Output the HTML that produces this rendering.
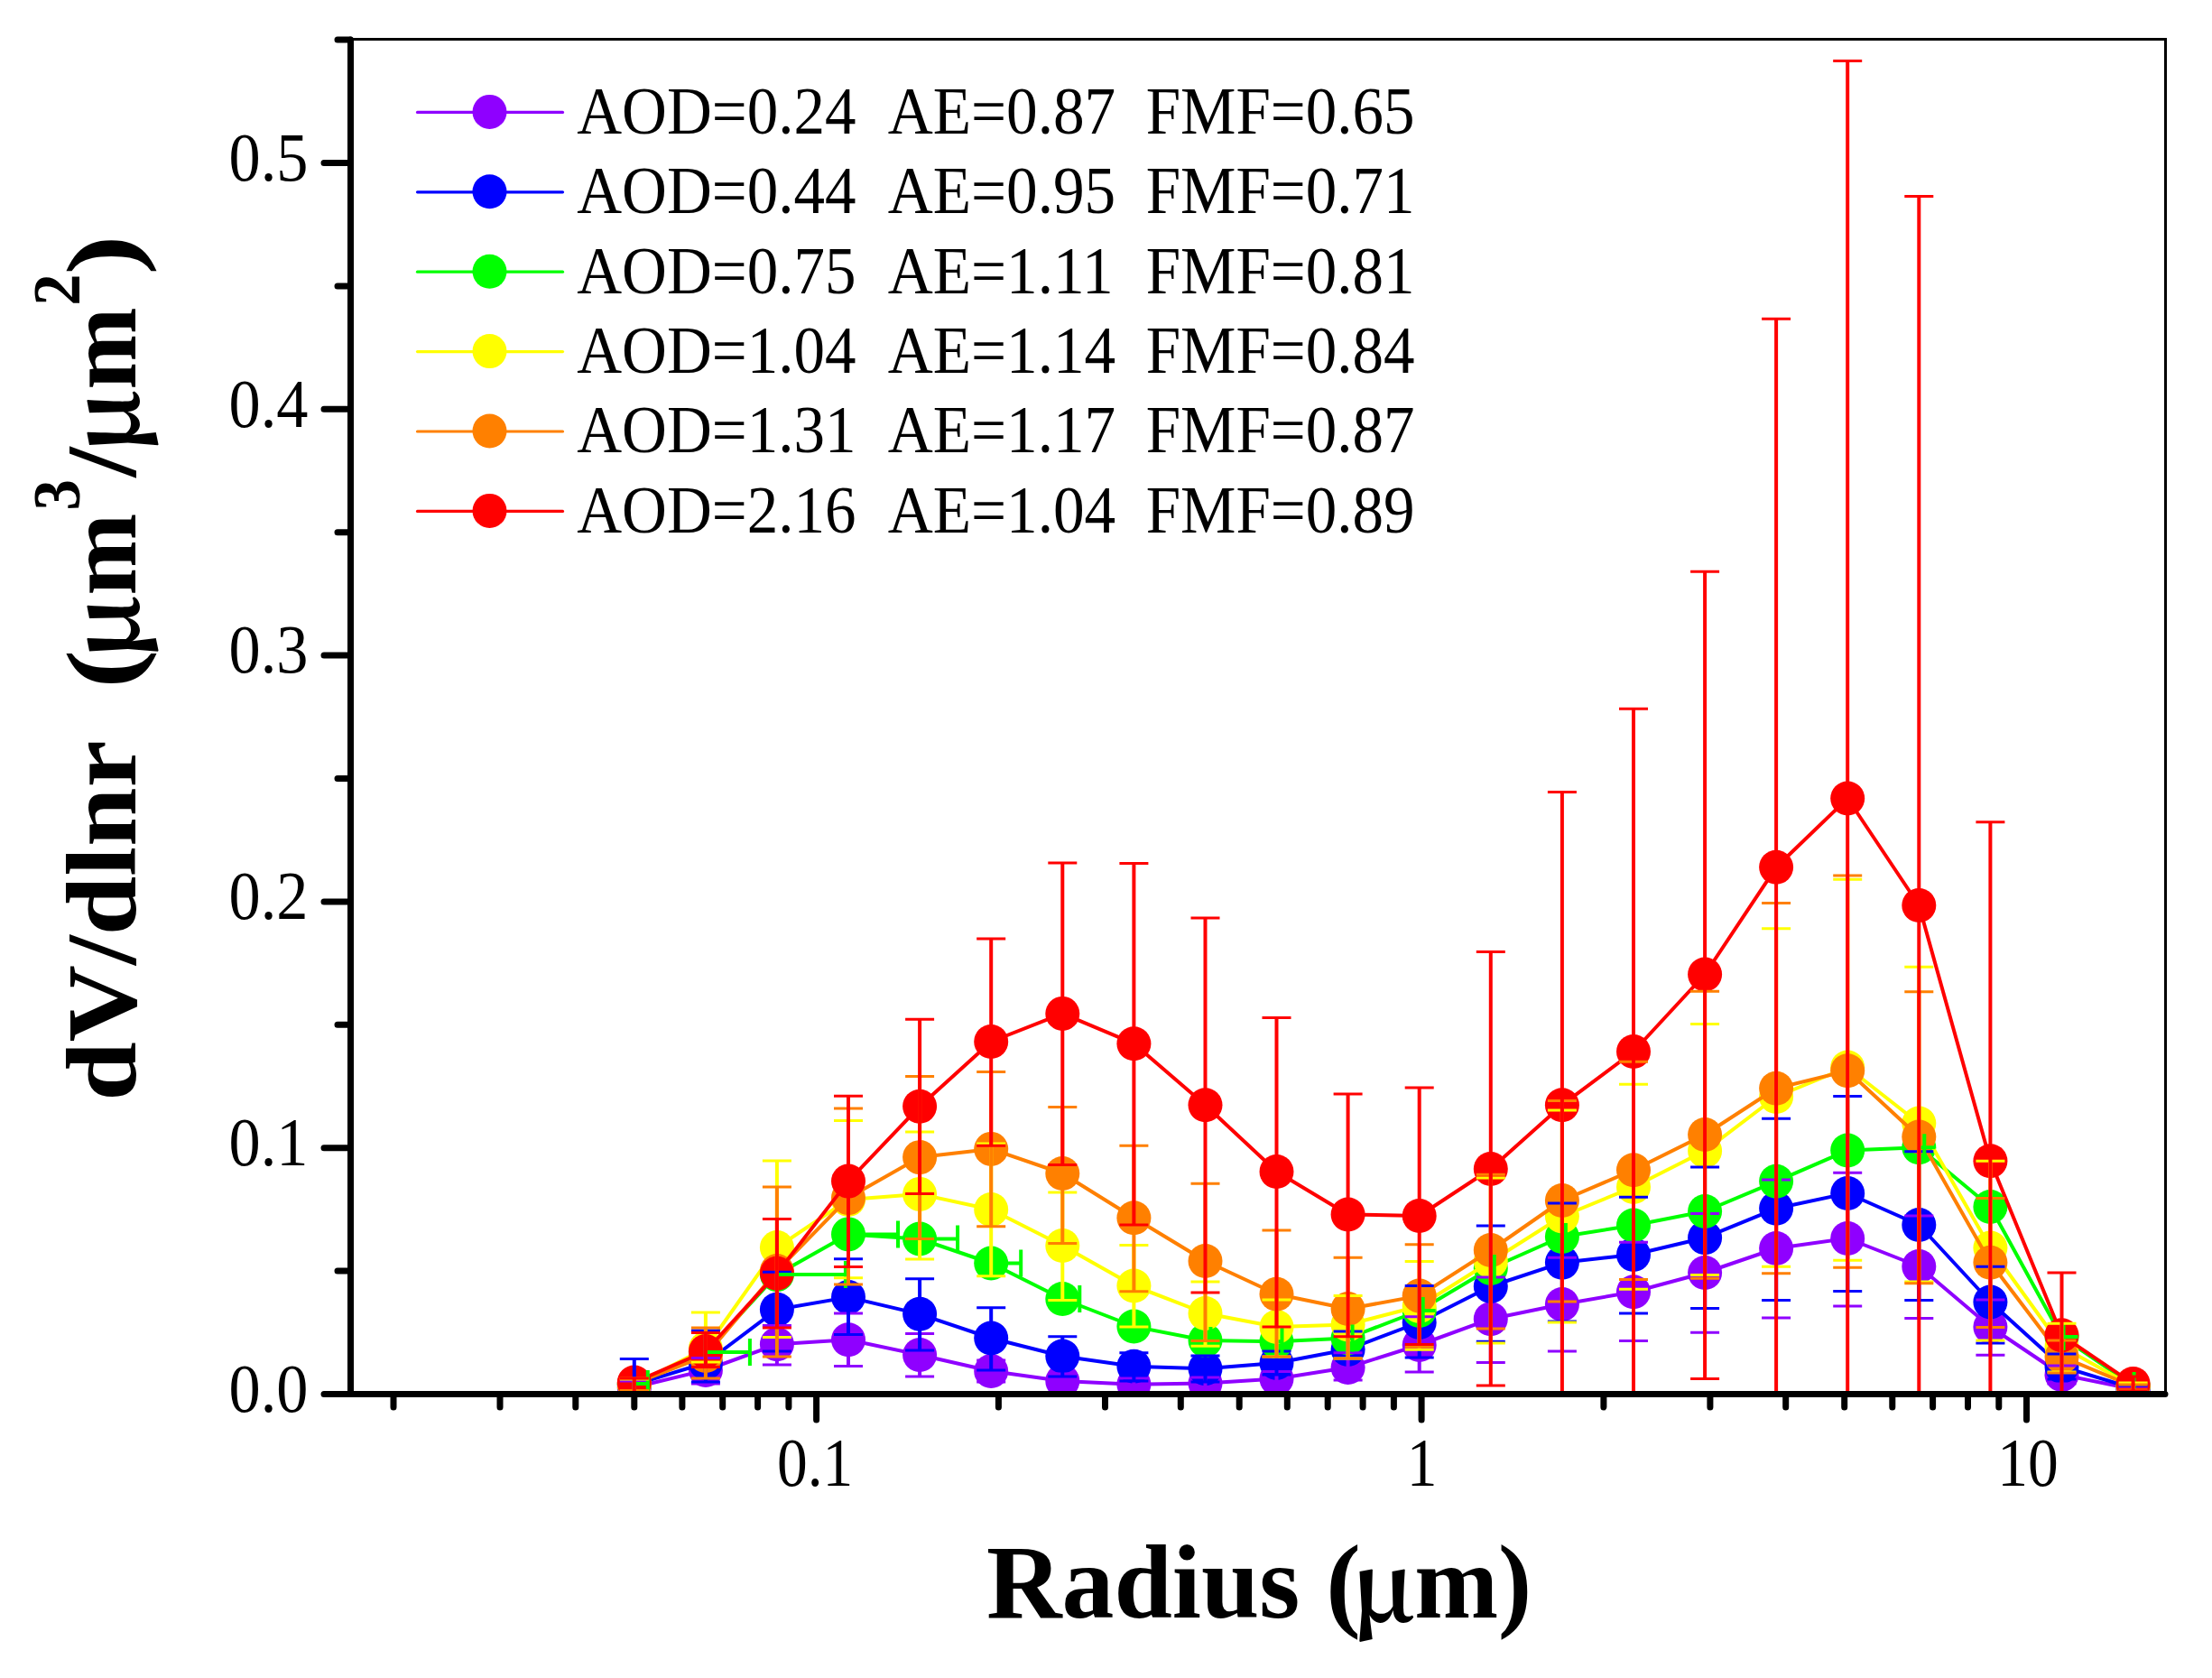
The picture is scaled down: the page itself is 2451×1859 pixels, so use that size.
<!DOCTYPE html><html><head><meta charset="utf-8"><style>html,body{margin:0;padding:0;background:#fff;overflow:hidden;}svg{display:block;}text{font-family:"Liberation Serif","Times New Roman",serif;}</style></head><body>
<svg width="2451" height="1859" viewBox="0 0 2451 1859">
<rect width="2451" height="1859" fill="#fff"/>
<text transform="translate(253.59,1563.80) scale(0.9375,1.0245)" font-size="75">0.0</text>
<text transform="translate(253.59,1291.00) scale(0.9375,1.0245)" font-size="75">0.1</text>
<text transform="translate(253.59,1018.20) scale(0.9375,1.0245)" font-size="75">0.2</text>
<text transform="translate(253.59,745.40) scale(0.9375,1.0245)" font-size="75">0.3</text>
<text transform="translate(253.59,472.60) scale(0.9375,1.0245)" font-size="75">0.4</text>
<text transform="translate(253.59,199.80) scale(0.9375,1.0245)" font-size="75">0.5</text>
<text transform="translate(903.09,1645.50) scale(0.9000,1.0102)" font-size="75" text-anchor="middle">0.1</text>
<text transform="translate(1575.54,1645.50) scale(0.9000,1.0102)" font-size="75" text-anchor="middle">1</text>
<text transform="translate(2246.99,1645.50) scale(0.9000,1.0102)" font-size="75" text-anchor="middle">10</text>
<text transform="translate(1092.94,1791.90) scale(0.9808,0.9872)" font-size="118" font-weight="bold">Radius (</text>
<text transform="translate(1567.17,1791.90) scale(0.9450,0.9872)" font-size="118" font-weight="bold">m)</text>
<text transform="translate(1497.18,1795.68) scale(0.9123,0.8889)" font-size="118" font-weight="bold" style="font-family:&quot;Noto Serif CJK SC&quot;,serif">μ</text>
<g transform="translate(149.8,1214.5) rotate(-90)">
<text transform="translate(-5.26,0.00) scale(1.0524,0.9846)" font-size="112" font-weight="bold">dV/dlnr</text>
<text transform="translate(451.86,0.00) scale(1.1483,0.9846)" font-size="112" font-weight="bold">(</text>
<text transform="translate(554.67,0.00) scale(0.9761,0.9846)" font-size="112" font-weight="bold">m</text>
<text transform="translate(686.06,0.00) scale(1.0606,0.9846)" font-size="112" font-weight="bold">/</text>
<text transform="translate(782.66,0.00) scale(0.9807,0.9846)" font-size="112" font-weight="bold">m</text>
<text transform="translate(910.09,0.00) scale(1.1786,0.9846)" font-size="112" font-weight="bold">)</text>
<text transform="translate(483.71,3.27) scale(0.9694,0.9221)" font-size="112" font-weight="bold" style="font-family:&quot;Noto Serif CJK SC&quot;,serif">μ</text>
<text transform="translate(712.14,3.27) scale(0.9565,0.9221)" font-size="112" font-weight="bold" style="font-family:&quot;Noto Serif CJK SC&quot;,serif">μ</text>
<text transform="translate(649.04,-62.30) scale(0.9548,1.0383)" font-size="72" font-weight="bold">3</text>
<text transform="translate(875.65,-62.30) scale(0.9833,1.0383)" font-size="72" font-weight="bold">2</text>
</g>
<defs><clipPath id="pc"><rect x="390" y="45" width="2008" height="1497"/></clipPath></defs>
<g clip-path="url(#pc)">
<polyline points="702.8,1537.0 781.9,1518.0 860.9,1489.3 940.0,1484.3 1019.1,1501.0 1098.2,1519.0 1177.3,1530.0 1256.4,1533.8 1335.5,1532.5 1414.5,1527.5 1493.6,1515.0 1572.7,1490.0 1651.8,1461.2 1730.9,1445.0 1810.0,1431.2 1889.1,1410.0 1968.1,1383.0 2047.2,1372.0 2126.3,1403.0 2205.4,1470.0 2284.5,1523.0 2363.6,1539.0" fill="none" stroke="#8F00FF" stroke-width="4" stroke-linejoin="round"/>
<circle cx="702.8" cy="1537.0" r="19" fill="#8F00FF"/><circle cx="781.9" cy="1518.0" r="19" fill="#8F00FF"/><circle cx="860.9" cy="1489.3" r="19" fill="#8F00FF"/><circle cx="940.0" cy="1484.3" r="19" fill="#8F00FF"/><circle cx="1019.1" cy="1501.0" r="19" fill="#8F00FF"/><circle cx="1098.2" cy="1519.0" r="19" fill="#8F00FF"/><circle cx="1177.3" cy="1530.0" r="19" fill="#8F00FF"/><circle cx="1256.4" cy="1533.8" r="19" fill="#8F00FF"/><circle cx="1335.5" cy="1532.5" r="19" fill="#8F00FF"/><circle cx="1414.5" cy="1527.5" r="19" fill="#8F00FF"/><circle cx="1493.6" cy="1515.0" r="19" fill="#8F00FF"/><circle cx="1572.7" cy="1490.0" r="19" fill="#8F00FF"/><circle cx="1651.8" cy="1461.2" r="19" fill="#8F00FF"/><circle cx="1730.9" cy="1445.0" r="19" fill="#8F00FF"/><circle cx="1810.0" cy="1431.2" r="19" fill="#8F00FF"/><circle cx="1889.1" cy="1410.0" r="19" fill="#8F00FF"/><circle cx="1968.1" cy="1383.0" r="19" fill="#8F00FF"/><circle cx="2047.2" cy="1372.0" r="19" fill="#8F00FF"/><circle cx="2126.3" cy="1403.0" r="19" fill="#8F00FF"/><circle cx="2205.4" cy="1470.0" r="19" fill="#8F00FF"/><circle cx="2284.5" cy="1523.0" r="19" fill="#8F00FF"/><circle cx="2363.6" cy="1539.0" r="19" fill="#8F00FF"/>
<polyline points="702.8,1534.0 781.9,1510.0 860.9,1450.7 940.0,1437.1 1019.1,1455.8 1098.2,1482.5 1177.3,1502.5 1256.4,1513.8 1335.5,1516.2 1414.5,1510.0 1493.6,1495.0 1572.7,1465.0 1651.8,1425.0 1730.9,1398.8 1810.0,1390.0 1889.1,1371.2 1968.1,1338.8 2047.2,1322.0 2126.3,1357.0 2205.4,1442.5 2284.5,1514.0 2363.6,1538.0" fill="none" stroke="#0000FF" stroke-width="4" stroke-linejoin="round"/>
<circle cx="702.8" cy="1534.0" r="19" fill="#0000FF"/><circle cx="781.9" cy="1510.0" r="19" fill="#0000FF"/><circle cx="860.9" cy="1450.7" r="19" fill="#0000FF"/><circle cx="940.0" cy="1437.1" r="19" fill="#0000FF"/><circle cx="1019.1" cy="1455.8" r="19" fill="#0000FF"/><circle cx="1098.2" cy="1482.5" r="19" fill="#0000FF"/><circle cx="1177.3" cy="1502.5" r="19" fill="#0000FF"/><circle cx="1256.4" cy="1513.8" r="19" fill="#0000FF"/><circle cx="1335.5" cy="1516.2" r="19" fill="#0000FF"/><circle cx="1414.5" cy="1510.0" r="19" fill="#0000FF"/><circle cx="1493.6" cy="1495.0" r="19" fill="#0000FF"/><circle cx="1572.7" cy="1465.0" r="19" fill="#0000FF"/><circle cx="1651.8" cy="1425.0" r="19" fill="#0000FF"/><circle cx="1730.9" cy="1398.8" r="19" fill="#0000FF"/><circle cx="1810.0" cy="1390.0" r="19" fill="#0000FF"/><circle cx="1889.1" cy="1371.2" r="19" fill="#0000FF"/><circle cx="1968.1" cy="1338.8" r="19" fill="#0000FF"/><circle cx="2047.2" cy="1322.0" r="19" fill="#0000FF"/><circle cx="2126.3" cy="1357.0" r="19" fill="#0000FF"/><circle cx="2205.4" cy="1442.5" r="19" fill="#0000FF"/><circle cx="2284.5" cy="1514.0" r="19" fill="#0000FF"/><circle cx="2363.6" cy="1538.0" r="19" fill="#0000FF"/>
<polyline points="702.8,1533.0 781.9,1497.9 860.9,1412.1 940.0,1367.4 1019.1,1372.5 1098.2,1399.5 1177.3,1439.0 1256.4,1469.5 1335.5,1485.0 1414.5,1486.2 1493.6,1482.5 1572.7,1452.0 1651.8,1405.0 1730.9,1370.0 1810.0,1357.5 1889.1,1342.0 1968.1,1308.8 2047.2,1274.5 2126.3,1271.2 2205.4,1337.0 2284.5,1481.0 2363.6,1535.0" fill="none" stroke="#00FF00" stroke-width="4" stroke-linejoin="round"/>
<circle cx="702.8" cy="1533.0" r="19" fill="#00FF00"/><circle cx="781.9" cy="1497.9" r="19" fill="#00FF00"/><circle cx="860.9" cy="1412.1" r="19" fill="#00FF00"/><circle cx="940.0" cy="1367.4" r="19" fill="#00FF00"/><circle cx="1019.1" cy="1372.5" r="19" fill="#00FF00"/><circle cx="1098.2" cy="1399.5" r="19" fill="#00FF00"/><circle cx="1177.3" cy="1439.0" r="19" fill="#00FF00"/><circle cx="1256.4" cy="1469.5" r="19" fill="#00FF00"/><circle cx="1335.5" cy="1485.0" r="19" fill="#00FF00"/><circle cx="1414.5" cy="1486.2" r="19" fill="#00FF00"/><circle cx="1493.6" cy="1482.5" r="19" fill="#00FF00"/><circle cx="1572.7" cy="1452.0" r="19" fill="#00FF00"/><circle cx="1651.8" cy="1405.0" r="19" fill="#00FF00"/><circle cx="1730.9" cy="1370.0" r="19" fill="#00FF00"/><circle cx="1810.0" cy="1357.5" r="19" fill="#00FF00"/><circle cx="1889.1" cy="1342.0" r="19" fill="#00FF00"/><circle cx="1968.1" cy="1308.8" r="19" fill="#00FF00"/><circle cx="2047.2" cy="1274.5" r="19" fill="#00FF00"/><circle cx="2126.3" cy="1271.2" r="19" fill="#00FF00"/><circle cx="2205.4" cy="1337.0" r="19" fill="#00FF00"/><circle cx="2284.5" cy="1481.0" r="19" fill="#00FF00"/><circle cx="2363.6" cy="1535.0" r="19" fill="#00FF00"/>
<polyline points="702.8,1534.0 781.9,1494.0 860.9,1382.1 940.0,1329.0 1019.1,1322.9 1098.2,1340.0 1177.3,1380.0 1256.4,1424.5 1335.5,1455.0 1414.5,1470.0 1493.6,1467.5 1572.7,1447.0 1651.8,1397.5 1730.9,1347.5 1810.0,1315.0 1889.1,1275.0 1968.1,1215.0 2047.2,1182.5 2126.3,1244.5 2205.4,1382.5 2284.5,1492.0 2363.6,1536.0" fill="none" stroke="#FFFF00" stroke-width="4" stroke-linejoin="round"/>
<circle cx="702.8" cy="1534.0" r="19" fill="#FFFF00"/><circle cx="781.9" cy="1494.0" r="19" fill="#FFFF00"/><circle cx="860.9" cy="1382.1" r="19" fill="#FFFF00"/><circle cx="940.0" cy="1329.0" r="19" fill="#FFFF00"/><circle cx="1019.1" cy="1322.9" r="19" fill="#FFFF00"/><circle cx="1098.2" cy="1340.0" r="19" fill="#FFFF00"/><circle cx="1177.3" cy="1380.0" r="19" fill="#FFFF00"/><circle cx="1256.4" cy="1424.5" r="19" fill="#FFFF00"/><circle cx="1335.5" cy="1455.0" r="19" fill="#FFFF00"/><circle cx="1414.5" cy="1470.0" r="19" fill="#FFFF00"/><circle cx="1493.6" cy="1467.5" r="19" fill="#FFFF00"/><circle cx="1572.7" cy="1447.0" r="19" fill="#FFFF00"/><circle cx="1651.8" cy="1397.5" r="19" fill="#FFFF00"/><circle cx="1730.9" cy="1347.5" r="19" fill="#FFFF00"/><circle cx="1810.0" cy="1315.0" r="19" fill="#FFFF00"/><circle cx="1889.1" cy="1275.0" r="19" fill="#FFFF00"/><circle cx="1968.1" cy="1215.0" r="19" fill="#FFFF00"/><circle cx="2047.2" cy="1182.5" r="19" fill="#FFFF00"/><circle cx="2126.3" cy="1244.5" r="19" fill="#FFFF00"/><circle cx="2205.4" cy="1382.5" r="19" fill="#FFFF00"/><circle cx="2284.5" cy="1492.0" r="19" fill="#FFFF00"/><circle cx="2363.6" cy="1536.0" r="19" fill="#FFFF00"/>
<polyline points="702.8,1533.0 781.9,1502.0 860.9,1408.0 940.0,1327.1 1019.1,1282.1 1098.2,1272.9 1177.3,1300.0 1256.4,1349.2 1335.5,1397.0 1414.5,1433.8 1493.6,1450.0 1572.7,1435.6 1651.8,1385.0 1730.9,1330.0 1810.0,1296.2 1889.1,1257.0 1968.1,1205.8 2047.2,1186.2 2126.3,1259.5 2205.4,1398.8 2284.5,1503.0 2363.6,1536.0" fill="none" stroke="#FF8000" stroke-width="4" stroke-linejoin="round"/>
<circle cx="702.8" cy="1533.0" r="19" fill="#FF8000"/><circle cx="781.9" cy="1502.0" r="19" fill="#FF8000"/><circle cx="860.9" cy="1408.0" r="19" fill="#FF8000"/><circle cx="940.0" cy="1327.1" r="19" fill="#FF8000"/><circle cx="1019.1" cy="1282.1" r="19" fill="#FF8000"/><circle cx="1098.2" cy="1272.9" r="19" fill="#FF8000"/><circle cx="1177.3" cy="1300.0" r="19" fill="#FF8000"/><circle cx="1256.4" cy="1349.2" r="19" fill="#FF8000"/><circle cx="1335.5" cy="1397.0" r="19" fill="#FF8000"/><circle cx="1414.5" cy="1433.8" r="19" fill="#FF8000"/><circle cx="1493.6" cy="1450.0" r="19" fill="#FF8000"/><circle cx="1572.7" cy="1435.6" r="19" fill="#FF8000"/><circle cx="1651.8" cy="1385.0" r="19" fill="#FF8000"/><circle cx="1730.9" cy="1330.0" r="19" fill="#FF8000"/><circle cx="1810.0" cy="1296.2" r="19" fill="#FF8000"/><circle cx="1889.1" cy="1257.0" r="19" fill="#FF8000"/><circle cx="1968.1" cy="1205.8" r="19" fill="#FF8000"/><circle cx="2047.2" cy="1186.2" r="19" fill="#FF8000"/><circle cx="2126.3" cy="1259.5" r="19" fill="#FF8000"/><circle cx="2205.4" cy="1398.8" r="19" fill="#FF8000"/><circle cx="2284.5" cy="1503.0" r="19" fill="#FF8000"/><circle cx="2363.6" cy="1536.0" r="19" fill="#FF8000"/>
<polyline points="702.8,1531.5 781.9,1497.0 860.9,1410.7 940.0,1308.6 1019.1,1225.7 1098.2,1154.0 1177.3,1122.9 1256.4,1156.2 1335.5,1224.2 1414.5,1298.0 1493.6,1345.5 1572.7,1347.0 1651.8,1295.0 1730.9,1224.2 1810.0,1165.0 1889.1,1079.5 1968.1,960.8 2047.2,884.5 2126.3,1003.0 2205.4,1286.2 2284.5,1479.3 2363.6,1533.0" fill="none" stroke="#FF0000" stroke-width="4" stroke-linejoin="round"/>
<circle cx="702.8" cy="1531.5" r="19" fill="#FF0000"/><circle cx="781.9" cy="1497.0" r="19" fill="#FF0000"/><circle cx="860.9" cy="1410.7" r="19" fill="#FF0000"/><circle cx="940.0" cy="1308.6" r="19" fill="#FF0000"/><circle cx="1019.1" cy="1225.7" r="19" fill="#FF0000"/><circle cx="1098.2" cy="1154.0" r="19" fill="#FF0000"/><circle cx="1177.3" cy="1122.9" r="19" fill="#FF0000"/><circle cx="1256.4" cy="1156.2" r="19" fill="#FF0000"/><circle cx="1335.5" cy="1224.2" r="19" fill="#FF0000"/><circle cx="1414.5" cy="1298.0" r="19" fill="#FF0000"/><circle cx="1493.6" cy="1345.5" r="19" fill="#FF0000"/><circle cx="1572.7" cy="1347.0" r="19" fill="#FF0000"/><circle cx="1651.8" cy="1295.0" r="19" fill="#FF0000"/><circle cx="1730.9" cy="1224.2" r="19" fill="#FF0000"/><circle cx="1810.0" cy="1165.0" r="19" fill="#FF0000"/><circle cx="1889.1" cy="1079.5" r="19" fill="#FF0000"/><circle cx="1968.1" cy="960.8" r="19" fill="#FF0000"/><circle cx="2047.2" cy="884.5" r="19" fill="#FF0000"/><circle cx="2126.3" cy="1003.0" r="19" fill="#FF0000"/><circle cx="2205.4" cy="1286.2" r="19" fill="#FF0000"/><circle cx="2284.5" cy="1479.3" r="19" fill="#FF0000"/><circle cx="2363.6" cy="1533.0" r="19" fill="#FF0000"/>
<path d="M702.8,1530.0V1544.0 M781.9,1504.4V1533.0 M860.9,1468.6V1512.1 M940.0,1455.0V1513.6 M1019.1,1477.5V1525.0 M1098.2,1507.0V1531.0 M1177.3,1522.0V1538.0 M1256.4,1527.0V1541.0 M1335.5,1526.0V1539.0 M1414.5,1519.5V1535.0 M1493.6,1498.8V1529.0 M1572.7,1458.8V1520.0 M1651.8,1415.0V1509.5 M1730.9,1393.2V1497.0 M1810.0,1376.2V1485.5 M1889.1,1344.5V1476.2 M1968.1,1307.0V1460.0 M2047.2,1299.2V1447.0 M2126.3,1347.0V1460.5 M2205.4,1440.0V1501.2 M2284.5,1513.0V1533.0 M2363.6,1536.0V1542.0" stroke="#8F00FF" stroke-width="4" fill="none"/>
<path d="M686.8,1530.0H718.8M686.8,1544.0H718.8 M765.9,1504.4H797.9M765.9,1533.0H797.9 M844.9,1468.6H876.9M844.9,1512.1H876.9 M924.0,1455.0H956.0M924.0,1513.6H956.0 M1003.1,1477.5H1035.1M1003.1,1525.0H1035.1 M1082.2,1507.0H1114.2M1082.2,1531.0H1114.2 M1161.3,1522.0H1193.3M1161.3,1538.0H1193.3 M1240.4,1527.0H1272.4M1240.4,1541.0H1272.4 M1319.5,1526.0H1351.5M1319.5,1539.0H1351.5 M1398.5,1519.5H1430.5M1398.5,1535.0H1430.5 M1477.6,1498.8H1509.6M1477.6,1529.0H1509.6 M1556.7,1458.8H1588.7M1556.7,1520.0H1588.7 M1635.8,1415.0H1667.8M1635.8,1509.5H1667.8 M1714.9,1393.2H1746.9M1714.9,1497.0H1746.9 M1794.0,1376.2H1826.0M1794.0,1485.5H1826.0 M1873.1,1344.5H1905.1M1873.1,1476.2H1905.1 M1952.1,1307.0H1984.1M1952.1,1460.0H1984.1 M2031.2,1299.2H2063.2M2031.2,1447.0H2063.2 M2110.3,1347.0H2142.3M2110.3,1460.5H2142.3 M2189.4,1440.0H2221.4M2189.4,1501.2H2221.4 M2268.5,1513.0H2300.5M2268.5,1533.0H2300.5 M2347.6,1536.0H2379.6M2347.6,1542.0H2379.6" stroke="#8F00FF" stroke-width="3" fill="none"/>
<path d="M702.8,1505.4V1542.0 M781.9,1474.0V1531.0 M860.9,1409.3V1497.1 M940.0,1394.7V1478.6 M1019.1,1416.8V1496.0 M1098.2,1448.8V1518.0 M1177.3,1480.8V1525.0 M1256.4,1498.8V1530.0 M1335.5,1502.0V1531.0 M1414.5,1497.0V1523.0 M1493.6,1475.0V1505.0 M1572.7,1424.5V1504.0 M1651.8,1358.0V1486.2 M1730.9,1333.0V1464.0 M1810.0,1326.2V1455.0 M1889.1,1293.0V1449.5 M1968.1,1239.2V1440.5 M2047.2,1214.5V1430.5 M2126.3,1275.8V1440.5 M2205.4,1403.2V1488.0 M2284.5,1500.0V1528.0 M2363.6,1535.0V1541.0" stroke="#0000FF" stroke-width="4" fill="none"/>
<path d="M686.8,1505.4H718.8M686.8,1542.0H718.8 M765.9,1474.0H797.9M765.9,1531.0H797.9 M844.9,1409.3H876.9M844.9,1497.1H876.9 M924.0,1394.7H956.0M924.0,1478.6H956.0 M1003.1,1416.8H1035.1M1003.1,1496.0H1035.1 M1082.2,1448.8H1114.2M1082.2,1518.0H1114.2 M1161.3,1480.8H1193.3M1161.3,1525.0H1193.3 M1240.4,1498.8H1272.4M1240.4,1530.0H1272.4 M1319.5,1502.0H1351.5M1319.5,1531.0H1351.5 M1398.5,1497.0H1430.5M1398.5,1523.0H1430.5 M1477.6,1475.0H1509.6M1477.6,1505.0H1509.6 M1556.7,1424.5H1588.7M1556.7,1504.0H1588.7 M1635.8,1358.0H1667.8M1635.8,1486.2H1667.8 M1714.9,1333.0H1746.9M1714.9,1464.0H1746.9 M1794.0,1326.2H1826.0M1794.0,1455.0H1826.0 M1873.1,1293.0H1905.1M1873.1,1449.5H1905.1 M1952.1,1239.2H1984.1M1952.1,1440.5H1984.1 M2031.2,1214.5H2063.2M2031.2,1430.5H2063.2 M2110.3,1275.8H2142.3M2110.3,1440.5H2142.3 M2189.4,1403.2H2221.4M2189.4,1488.0H2221.4 M2268.5,1500.0H2300.5M2268.5,1528.0H2300.5 M2347.6,1535.0H2379.6M2347.6,1541.0H2379.6" stroke="#0000FF" stroke-width="3" fill="none"/>
<path d="M702.8,1533.0H717.8M717.8,1518.0V1548.0 M781.9,1497.9H830.9M830.9,1482.9V1512.9 M860.9,1412.1H936.9M936.9,1397.1V1427.1 M940.0,1367.4H995.0M995.0,1352.4V1382.4 M1019.1,1372.5H1061.1M1061.1,1357.5V1387.5 M1098.2,1399.5H1131.2M1131.2,1384.5V1414.5 M1177.3,1439.0H1196.3M1196.3,1424.0V1454.0 M1256.4,1469.5H1262.4M1262.4,1454.5V1484.5 M1335.5,1485.0H1341.5M1341.5,1470.0V1500.0 M1414.5,1486.2H1420.5M1420.5,1471.2V1501.2 M1493.6,1482.5H1498.6M1498.6,1467.5V1497.5 M1572.7,1452.0H1590.7M1576.7,1437.0V1467.0 M1651.8,1405.0H1655.8M1655.8,1390.0V1420.0 M1730.9,1370.0H1734.9M1734.9,1355.0V1385.0 M1810.0,1357.5H1814.0M1814.0,1342.5V1372.5 M1889.1,1342.0H1893.1M1893.1,1327.0V1357.0 M1968.1,1308.8H1972.1M1972.1,1293.8V1323.8 M2047.2,1274.5H2051.2M2051.2,1259.5V1289.5 M2126.3,1271.2H2144.3M2132.3,1256.2V1286.2 M2205.4,1337.0H2209.4M2209.4,1322.0V1352.0 M2284.5,1481.0H2302.5M2286.5,1466.0V1496.0 M2363.6,1535.0H2364.6M2364.6,1520.0V1550.0" stroke="#00FF00" stroke-width="4" fill="none"/>
<path d="M702.8,1528.0V1541.0 M781.9,1454.0V1509.0 M860.9,1286.0V1481.4 M940.0,1241.4V1415.7 M1019.1,1254.0V1395.0 M1098.2,1266.9V1413.8 M1177.3,1321.1V1440.5 M1256.4,1379.5V1470.0 M1335.5,1420.0V1491.2 M1414.5,1440.0V1503.0 M1493.6,1435.5V1505.0 M1572.7,1397.5V1495.2 M1651.8,1305.0V1488.0 M1730.9,1230.0V1465.0 M1810.0,1201.2V1428.2 M1889.1,1134.5V1412.5 M1968.1,1028.8V1403.2 M2047.2,974.2V1396.2 M2126.3,1071.2V1420.0 M2205.4,1286.2V1485.0 M2284.5,1466.2V1520.0 M2363.6,1532.0V1542.0" stroke="#FFFF00" stroke-width="4" fill="none"/>
<path d="M686.8,1528.0H718.8M686.8,1541.0H718.8 M765.9,1454.0H797.9M765.9,1509.0H797.9 M844.9,1286.0H876.9M844.9,1481.4H876.9 M924.0,1241.4H956.0M924.0,1415.7H956.0 M1003.1,1254.0H1035.1M1003.1,1395.0H1035.1 M1082.2,1266.9H1114.2M1082.2,1413.8H1114.2 M1161.3,1321.1H1193.3M1161.3,1440.5H1193.3 M1240.4,1379.5H1272.4M1240.4,1470.0H1272.4 M1319.5,1420.0H1351.5M1319.5,1491.2H1351.5 M1398.5,1440.0H1430.5M1398.5,1503.0H1430.5 M1477.6,1435.5H1509.6M1477.6,1505.0H1509.6 M1556.7,1397.5H1588.7M1556.7,1495.2H1588.7 M1635.8,1305.0H1667.8M1635.8,1488.0H1667.8 M1714.9,1230.0H1746.9M1714.9,1465.0H1746.9 M1794.0,1201.2H1826.0M1794.0,1428.2H1826.0 M1873.1,1134.5H1905.1M1873.1,1412.5H1905.1 M1952.1,1028.8H1984.1M1952.1,1403.2H1984.1 M2031.2,974.2H2063.2M2031.2,1396.2H2063.2 M2110.3,1071.2H2142.3M2110.3,1420.0H2142.3 M2189.4,1286.2H2221.4M2189.4,1485.0H2221.4 M2268.5,1466.2H2300.5M2268.5,1520.0H2300.5 M2347.6,1532.0H2379.6M2347.6,1542.0H2379.6" stroke="#FFFF00" stroke-width="3" fill="none"/>
<path d="M702.8,1527.0V1540.5 M781.9,1471.1V1527.0 M860.9,1315.0V1503.1 M940.0,1227.9V1422.9 M1019.1,1192.6V1372.5 M1098.2,1187.4V1358.8 M1177.3,1226.4V1377.5 M1256.4,1269.2V1430.8 M1335.5,1311.2V1485.5 M1414.5,1363.0V1503.0 M1493.6,1393.2V1505.0 M1572.7,1378.8V1492.3 M1651.8,1301.2V1472.0 M1730.9,1219.5V1442.0 M1810.0,1176.2V1417.5 M1889.1,1098.2V1416.2 M1968.1,1000.5V1410.8 M2047.2,970.0V1404.2 M2126.3,1098.8V1421.8 M2205.4,1327.5V1470.5 M2284.5,1485.0V1521.0 M2363.6,1534.0V1540.0" stroke="#FF8000" stroke-width="4" fill="none"/>
<path d="M686.8,1527.0H718.8M686.8,1540.5H718.8 M765.9,1471.1H797.9M765.9,1527.0H797.9 M844.9,1315.0H876.9M844.9,1503.1H876.9 M924.0,1227.9H956.0M924.0,1422.9H956.0 M1003.1,1192.6H1035.1M1003.1,1372.5H1035.1 M1082.2,1187.4H1114.2M1082.2,1358.8H1114.2 M1161.3,1226.4H1193.3M1161.3,1377.5H1193.3 M1240.4,1269.2H1272.4M1240.4,1430.8H1272.4 M1319.5,1311.2H1351.5M1319.5,1485.5H1351.5 M1398.5,1363.0H1430.5M1398.5,1503.0H1430.5 M1477.6,1393.2H1509.6M1477.6,1505.0H1509.6 M1556.7,1378.8H1588.7M1556.7,1492.3H1588.7 M1635.8,1301.2H1667.8M1635.8,1472.0H1667.8 M1714.9,1219.5H1746.9M1714.9,1442.0H1746.9 M1794.0,1176.2H1826.0M1794.0,1417.5H1826.0 M1873.1,1098.2H1905.1M1873.1,1416.2H1905.1 M1952.1,1000.5H1984.1M1952.1,1410.8H1984.1 M2031.2,970.0H2063.2M2031.2,1404.2H2063.2 M2110.3,1098.8H2142.3M2110.3,1421.8H2142.3 M2189.4,1327.5H2221.4M2189.4,1470.5H2221.4 M2268.5,1485.0H2300.5M2268.5,1521.0H2300.5 M2347.6,1534.0H2379.6M2347.6,1540.0H2379.6" stroke="#FF8000" stroke-width="3" fill="none"/>
<path d="M702.8,1527.0V1560.0 M781.9,1476.4V1514.5 M860.9,1350.4V1471.1 M940.0,1214.3V1403.6 M1019.1,1129.3V1322.4 M1098.2,1040.0V1269.3 M1177.3,956.0V1290.4 M1256.4,956.5V1357.0 M1335.5,1017.0V1432.0 M1414.5,1127.5V1470.0 M1493.6,1212.0V1480.8 M1572.7,1205.0V1489.4 M1651.8,1054.5V1535.0 M1730.9,877.5V1560.0 M1810.0,785.3V1560.0 M1889.1,633.2V1527.5 M1968.1,353.3V1560.0 M2047.2,67.5V1560.0 M2126.3,217.6V1560.0 M2205.4,910.8V1560.0 M2284.5,1410.0V1560.0 M2363.6,1525.0V1541.0" stroke="#FF0000" stroke-width="4" fill="none"/>
<path d="M686.8,1527.0H718.8M686.8,1560.0H718.8 M765.9,1476.4H797.9M765.9,1514.5H797.9 M844.9,1350.4H876.9M844.9,1471.1H876.9 M924.0,1214.3H956.0M924.0,1403.6H956.0 M1003.1,1129.3H1035.1M1003.1,1322.4H1035.1 M1082.2,1040.0H1114.2M1082.2,1269.3H1114.2 M1161.3,956.0H1193.3M1161.3,1290.4H1193.3 M1240.4,956.5H1272.4M1240.4,1357.0H1272.4 M1319.5,1017.0H1351.5M1319.5,1432.0H1351.5 M1398.5,1127.5H1430.5M1398.5,1470.0H1430.5 M1477.6,1212.0H1509.6M1477.6,1480.8H1509.6 M1556.7,1205.0H1588.7M1556.7,1489.4H1588.7 M1635.8,1054.5H1667.8M1635.8,1535.0H1667.8 M1714.9,877.5H1746.9M1714.9,1560.0H1746.9 M1794.0,785.3H1826.0M1794.0,1560.0H1826.0 M1873.1,633.2H1905.1M1873.1,1527.5H1905.1 M1952.1,353.3H1984.1M1952.1,1560.0H1984.1 M2031.2,67.5H2063.2M2031.2,1560.0H2063.2 M2110.3,217.6H2142.3M2110.3,1560.0H2142.3 M2189.4,910.8H2221.4M2189.4,1560.0H2221.4 M2268.5,1410.0H2300.5M2268.5,1560.0H2300.5 M2347.6,1525.0H2379.6M2347.6,1541.0H2379.6" stroke="#FF0000" stroke-width="3" fill="none"/>
</g>
<path d="M388.5,43.5 H2399.5 V1544.5" fill="none" stroke="#000" stroke-width="3"/>
<path d="M388.5,44 V1544.5 H2399" fill="none" stroke="#000" stroke-width="7" stroke-linecap="round"/>
<path d="M359,1544.5H388 M374,1408.1H388 M359,1271.7H388 M374,1135.3H388 M359,998.9H388 M374,862.5H388 M359,726.1H388 M374,589.7H388 M359,453.3H388 M374,316.9H388 M359,180.5H388 M374,44.1H388 M436.0,1545V1559 M554.0,1545V1559 M637.8,1545V1559 M702.8,1545V1559 M755.9,1545V1559 M800.7,1545V1559 M839.6,1545V1559 M873.9,1545V1559 M904.6,1545V1573 M1106.4,1545V1559 M1224.5,1545V1559 M1308.3,1545V1559 M1373.2,1545V1559 M1426.3,1545V1559 M1471.2,1545V1559 M1510.1,1545V1559 M1544.4,1545V1559 M1575.1,1545V1573 M1776.9,1545V1559 M1894.9,1545V1559 M1978.7,1545V1559 M2043.7,1545V1559 M2096.8,1545V1559 M2141.6,1545V1559 M2180.5,1545V1559 M2214.8,1545V1559 M2245.5,1545V1573" fill="none" stroke="#000" stroke-width="7" stroke-linecap="round"/>
<line x1="462.5" y1="124.40" x2="623.5" y2="124.40" stroke="#8F00FF" stroke-width="3.2" stroke-linecap="round"/>
<circle cx="542.5" cy="123.90" r="19" fill="#8F00FF"/>
<text transform="translate(639.27,147.80) scale(0.9325,0.9980)" font-size="74">AOD=0.24</text>
<text transform="translate(983.66,147.80) scale(0.9360,0.9980)" font-size="74">AE=0.87</text>
<text transform="translate(1269.63,147.80) scale(0.9328,0.9980)" font-size="74">FMF=0.65</text>
<line x1="462.5" y1="212.80" x2="623.5" y2="212.80" stroke="#0000FF" stroke-width="3.2" stroke-linecap="round"/>
<circle cx="542.5" cy="212.30" r="19" fill="#0000FF"/>
<text transform="translate(639.27,236.20) scale(0.9325,0.9980)" font-size="74">AOD=0.44</text>
<text transform="translate(983.66,236.20) scale(0.9360,0.9980)" font-size="74">AE=0.95</text>
<text transform="translate(1269.63,236.20) scale(0.9328,0.9980)" font-size="74">FMF=0.71</text>
<line x1="462.5" y1="301.20" x2="623.5" y2="301.20" stroke="#00FF00" stroke-width="3.2" stroke-linecap="round"/>
<circle cx="542.5" cy="300.70" r="19" fill="#00FF00"/>
<text transform="translate(639.27,324.60) scale(0.9325,0.9980)" font-size="74">AOD=0.75</text>
<text transform="translate(983.66,324.60) scale(0.9360,0.9980)" font-size="74">AE=1.11</text>
<text transform="translate(1269.63,324.60) scale(0.9328,0.9980)" font-size="74">FMF=0.81</text>
<line x1="462.5" y1="389.60" x2="623.5" y2="389.60" stroke="#FFFF00" stroke-width="3.2" stroke-linecap="round"/>
<circle cx="542.5" cy="389.10" r="19" fill="#FFFF00"/>
<text transform="translate(639.27,413.00) scale(0.9325,0.9980)" font-size="74">AOD=1.04</text>
<text transform="translate(983.66,413.00) scale(0.9360,0.9980)" font-size="74">AE=1.14</text>
<text transform="translate(1269.63,413.00) scale(0.9328,0.9980)" font-size="74">FMF=0.84</text>
<line x1="462.5" y1="478.00" x2="623.5" y2="478.00" stroke="#FF8000" stroke-width="3.2" stroke-linecap="round"/>
<circle cx="542.5" cy="477.50" r="19" fill="#FF8000"/>
<text transform="translate(639.27,501.40) scale(0.9325,0.9980)" font-size="74">AOD=1.31</text>
<text transform="translate(983.66,501.40) scale(0.9360,0.9980)" font-size="74">AE=1.17</text>
<text transform="translate(1269.63,501.40) scale(0.9328,0.9980)" font-size="74">FMF=0.87</text>
<line x1="462.5" y1="566.40" x2="623.5" y2="566.40" stroke="#FF0000" stroke-width="3.2" stroke-linecap="round"/>
<circle cx="542.5" cy="565.90" r="19" fill="#FF0000"/>
<text transform="translate(639.27,589.80) scale(0.9325,0.9980)" font-size="74">AOD=2.16</text>
<text transform="translate(983.66,589.80) scale(0.9360,0.9980)" font-size="74">AE=1.04</text>
<text transform="translate(1269.63,589.80) scale(0.9328,0.9980)" font-size="74">FMF=0.89</text>
</svg></body></html>
